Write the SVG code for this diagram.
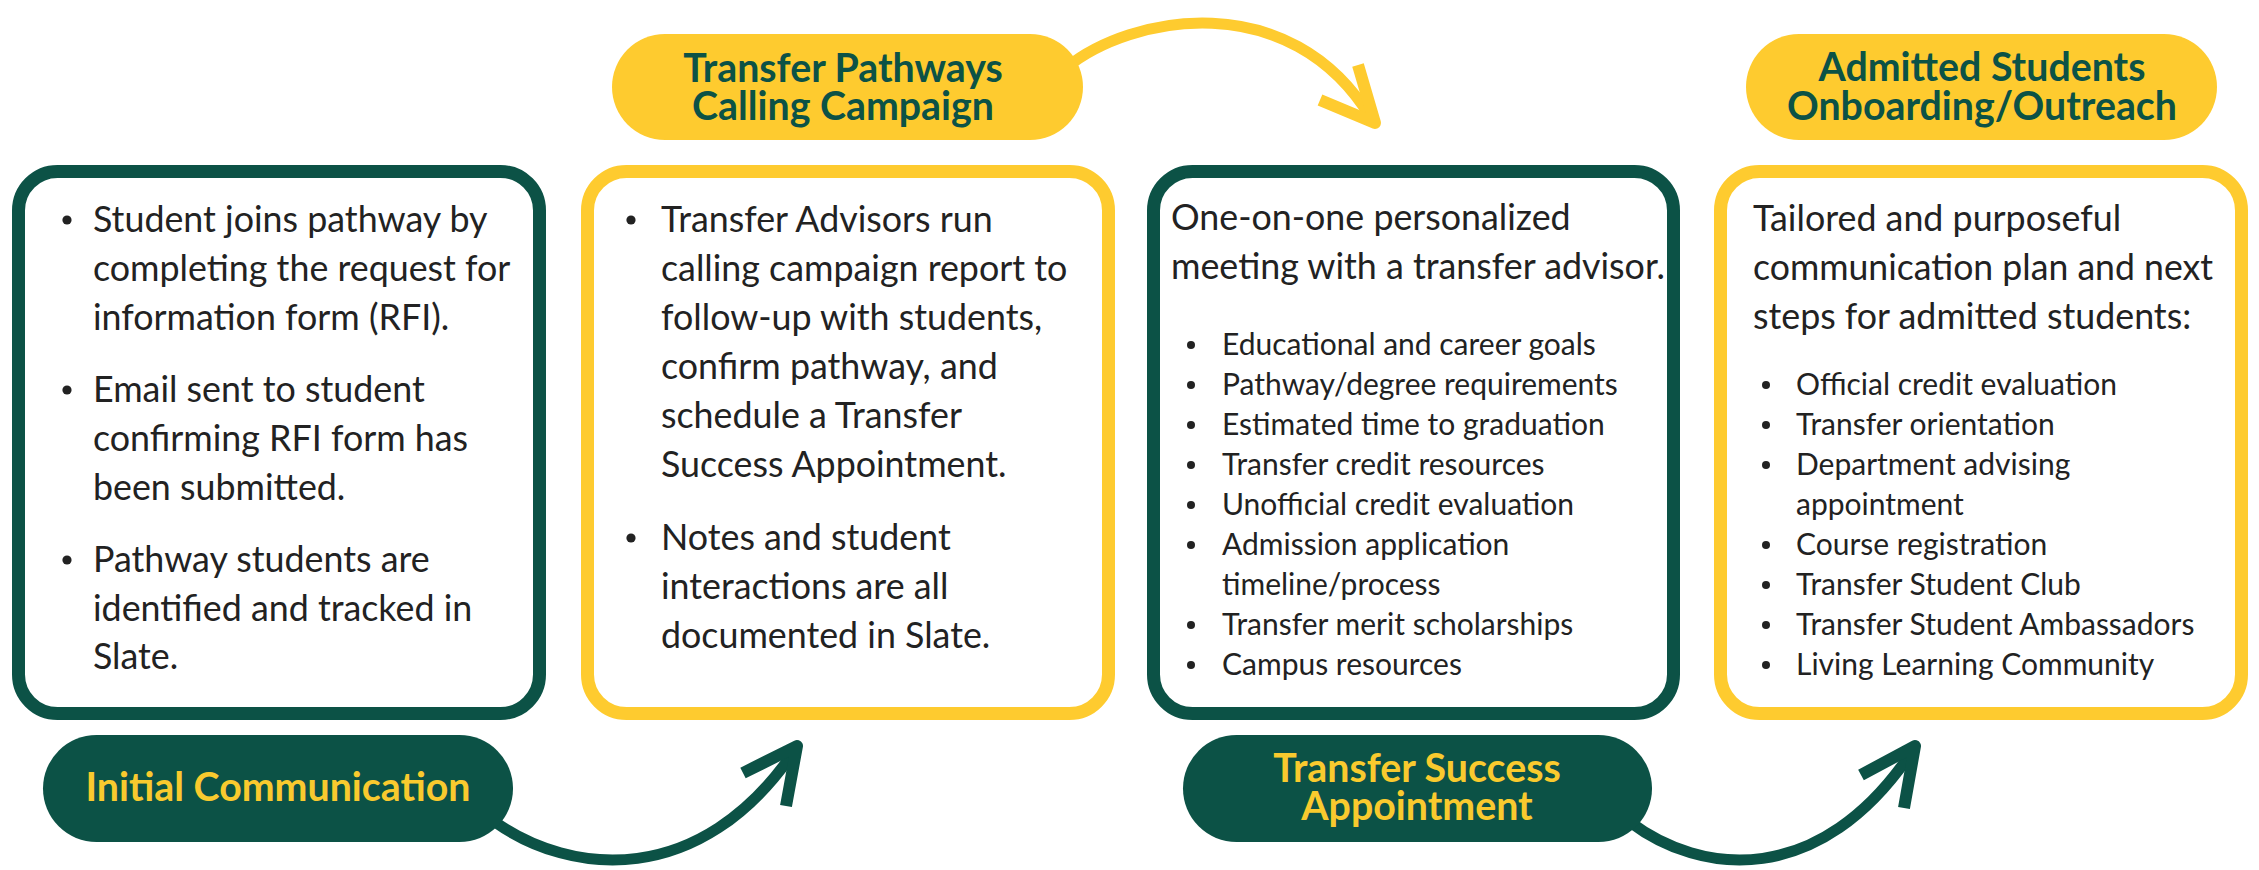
<svg xmlns="http://www.w3.org/2000/svg" width="2259" height="870" viewBox="0 0 2259 870">
<style>
.box{fill:#fff;stroke-width:13}
.g{stroke:#0c5246}
.y{stroke:#fecb2f}
.pillY{fill:#fecb2f}
.pillG{fill:#0c5246}
.pt{font-family:Lato,"Liberation Sans",sans-serif;font-weight:700;font-size:39.3px;text-anchor:middle}
.ptg{fill:#0c5246}
.pty{fill:#f9ca2e}
.t{font-family:Lato,"Liberation Sans",sans-serif;font-size:35.8px;fill:#222}
.s{font-family:Lato,"Liberation Sans",sans-serif;font-size:30px;fill:#222}
.b{fill:#222}
.con{fill:none;stroke-linecap:butt;stroke-linejoin:round}
</style>
<rect width="2259" height="870" fill="#fff"/>
<g id="connectors">
<path class="con" d="M1066,68 C1130,15 1290,-15 1371,118" stroke="#fecb2f" stroke-width="11"/>
<path class="con" d="M1320,100 L1375,123 L1358,65" stroke="#fecb2f" stroke-width="12"/>
<path class="con" d="M495,822 C570,875 700,890 795,750" stroke="#0c5246" stroke-width="11"/>
<path class="con" d="M743,773 L797,746 L786,806" stroke="#0c5246" stroke-width="12"/>
<path class="con" d="M1630,822 C1700,875 1820,890 1913,750" stroke="#0c5246" stroke-width="11"/>
<path class="con" d="M1861,775 L1915,746 L1904,808" stroke="#0c5246" stroke-width="12"/>
</g>
<g id="box1">
<rect class="box g" x="18.5" y="171.5" width="521" height="542" rx="39"/>
<circle class="b" cx="67" cy="220" r="4.6"/>
<circle class="b" cx="67" cy="390" r="4.6"/>
<circle class="b" cx="67" cy="560" r="4.6"/>
<text class="t"><tspan x="93" y="232">Student joins pathway by</tspan><tspan x="93" y="281">completing the request for</tspan><tspan x="93" y="330">information form (RFI).</tspan><tspan x="93" y="402">Email sent to student</tspan><tspan x="93" y="451">confirming RFI form has</tspan><tspan x="93" y="500">been submitted.</tspan><tspan x="93" y="572">Pathway students are</tspan><tspan x="93" y="621">identified and tracked in</tspan><tspan x="93" y="669">Slate.</tspan></text>
</g>
<g id="box2">
<rect class="box y" x="587.5" y="171.5" width="521" height="542" rx="39"/>
<circle class="b" cx="631" cy="220" r="4.6"/>
<circle class="b" cx="631" cy="538" r="4.6"/>
<text class="t"><tspan x="661" y="232">Transfer Advisors run</tspan><tspan x="661" y="281">calling campaign report to</tspan><tspan x="661" y="330">follow-up with students,</tspan><tspan x="661" y="379">confirm pathway, and</tspan><tspan x="661" y="428">schedule a Transfer</tspan><tspan x="661" y="477">Success Appointment.</tspan><tspan x="661" y="550">Notes and student</tspan><tspan x="661" y="599">interactions are all</tspan><tspan x="661" y="648">documented in Slate.</tspan></text>
</g>
<g id="box3">
<rect class="box g" x="1153.5" y="171.5" width="520" height="542" rx="39"/>
<text class="t" x="1171" y="230">One-on-one personalized</text>
<text class="t" x="1171" y="279" textLength="494" lengthAdjust="spacingAndGlyphs">meeting with a transfer advisor.</text>
<circle class="b" cx="1191" cy="345" r="4"/>
<circle class="b" cx="1191" cy="385" r="4"/>
<circle class="b" cx="1191" cy="425" r="4"/>
<circle class="b" cx="1191" cy="465" r="4"/>
<circle class="b" cx="1191" cy="505" r="4"/>
<circle class="b" cx="1191" cy="545" r="4"/>
<circle class="b" cx="1191" cy="625" r="4"/>
<circle class="b" cx="1191" cy="665" r="4"/>
<text class="s"><tspan x="1222" y="355">Educational and career goals</tspan><tspan x="1222" y="395">Pathway/degree requirements</tspan><tspan x="1222" y="435">Estimated time to graduation</tspan><tspan x="1222" y="475">Transfer credit resources</tspan><tspan x="1222" y="515">Unofficial credit evaluation</tspan><tspan x="1222" y="555">Admission application</tspan><tspan x="1222" y="595">timeline/process</tspan><tspan x="1222" y="635">Transfer merit scholarships</tspan><tspan x="1222" y="675">Campus resources</tspan></text>
</g>
<g id="box4">
<rect class="box y" x="1720.5" y="171.5" width="521" height="542" rx="39"/>
<text class="t" x="1753" y="231">Tailored and purposeful</text>
<text class="t" x="1753" y="280" textLength="460" lengthAdjust="spacingAndGlyphs">communication plan and next</text>
<text class="t" x="1753" y="329">steps for admitted students:</text>
<circle class="b" cx="1766" cy="385" r="4"/>
<circle class="b" cx="1766" cy="425" r="4"/>
<circle class="b" cx="1766" cy="465" r="4"/>
<circle class="b" cx="1766" cy="545" r="4"/>
<circle class="b" cx="1766" cy="585" r="4"/>
<circle class="b" cx="1766" cy="625" r="4"/>
<circle class="b" cx="1766" cy="665" r="4"/>
<text class="s"><tspan x="1796" y="395">Official credit evaluation</tspan><tspan x="1796" y="435">Transfer orientation</tspan><tspan x="1796" y="475">Department advising</tspan><tspan x="1796" y="515">appointment</tspan><tspan x="1796" y="555">Course registration</tspan><tspan x="1796" y="595">Transfer Student Club</tspan><tspan x="1796" y="635">Transfer Student Ambassadors</tspan><tspan x="1796" y="675">Living Learning Community</tspan></text>
</g>
<g id="pill1">
<rect class="pillG" x="43" y="735" width="470" height="107" rx="53.5"/>
<text class="pt pty" x="278" y="801">Initial Communication</text>
</g>
<g id="pill2">
<rect class="pillY" x="612" y="34" width="471" height="106" rx="53"/>
<text class="pt ptg"><tspan x="843" y="82">Transfer Pathways</tspan><tspan x="843" y="120">Calling Campaign</tspan></text>
</g>
<g id="pill3">
<rect class="pillG" x="1183" y="735" width="469" height="107" rx="53.5"/>
<text class="pt pty"><tspan x="1417" y="782">Transfer Success</tspan><tspan x="1417" y="820">Appointment</tspan></text>
</g>
<g id="pill4">
<rect class="pillY" x="1746" y="34" width="471" height="106" rx="53"/>
<text class="pt ptg"><tspan x="1982" y="81">Admitted Students</tspan><tspan x="1982" y="120">Onboarding/Outreach</tspan></text>
</g>
</svg>
